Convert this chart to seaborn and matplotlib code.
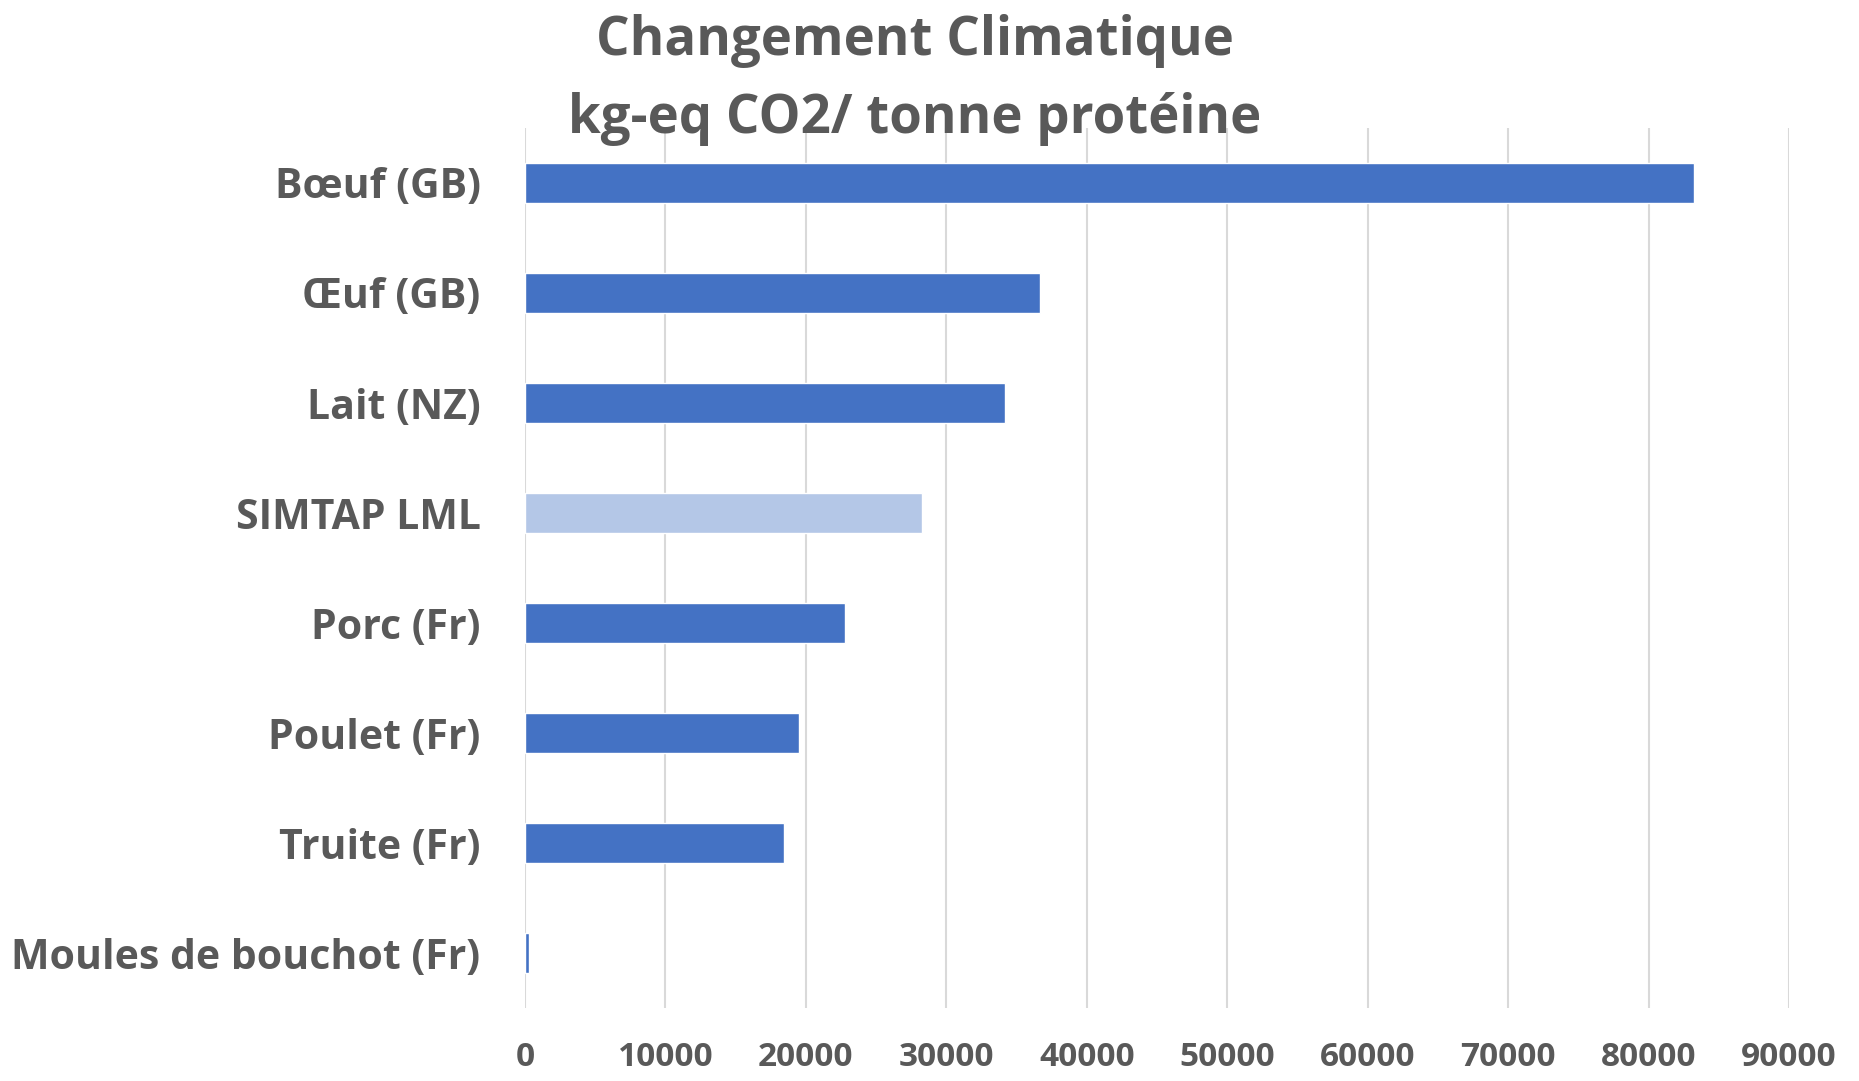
import pandas as pd
import numpy as np
import matplotlib.pyplot as plt
import seaborn as sns

# Data
categories = ["Bœuf (GB)", "Œuf (GB)", "Lait (NZ)", "SIMTAP LML",
              "Porc (Fr)", "Poulet (Fr)", "Truite (Fr)", "Moules de bouchot (Fr)"]
values = [83200, 36700, 34200, 28270, 22790, 19500, 18410, 300]
xticks = [0, 10000, 20000, 30000, 40000, 50000, 60000, 70000, 80000, 90000]

df = pd.DataFrame({"produit": categories, "co2": values})

blue = "#4472C4"
light = "#B4C7E7"
palette = {c: (light if c == "SIMTAP LML" else blue) for c in categories}
text_col = "#595959"

sns.set_theme(style="white")
plt.rcParams['font.family'] = ['Open Sans', 'DejaVu Sans']

fig = plt.figure(figsize=(18.59, 10.81), dpi=100)
ax = fig.add_axes([0.2824, 0.0675, 0.68, 0.8141])

sns.barplot(data=df, x="co2", y="produit", hue="produit", palette=palette,
            orient="h", width=0.36, legend=False, ax=ax, saturation=1)

ax.set_xlim(0, 90000)
ax.set_ylim(7.5, -0.5)
ax.set_xticks(xticks)
ax.set_xticklabels([str(t) for t in xticks])
ax.xaxis.grid(True, color="#D9D9D9", linewidth=1.5)
ax.set_axisbelow(True)
for s in ax.spines.values():
    s.set_visible(False)
ax.tick_params(axis="x", length=0, pad=24, labelsize=24, labelcolor=text_col)
ax.tick_params(axis="y", length=0, pad=32, labelsize=29.5, labelcolor=text_col)
for lab in ax.get_xticklabels() + ax.get_yticklabels():
    lab.set_fontweight("bold")
ax.set_xlabel("")
ax.set_ylabel("")

fig.text(0.492, 0.962, "Changement Climatique", ha="center", va="center",
         fontsize=38, fontweight="bold", color=text_col)
fig.text(0.492, 0.890, "kg-eq CO2/ tonne protéine", ha="center", va="center",
         fontsize=38, fontweight="bold", color=text_col)

plt.savefig("out.png", dpi=100)
